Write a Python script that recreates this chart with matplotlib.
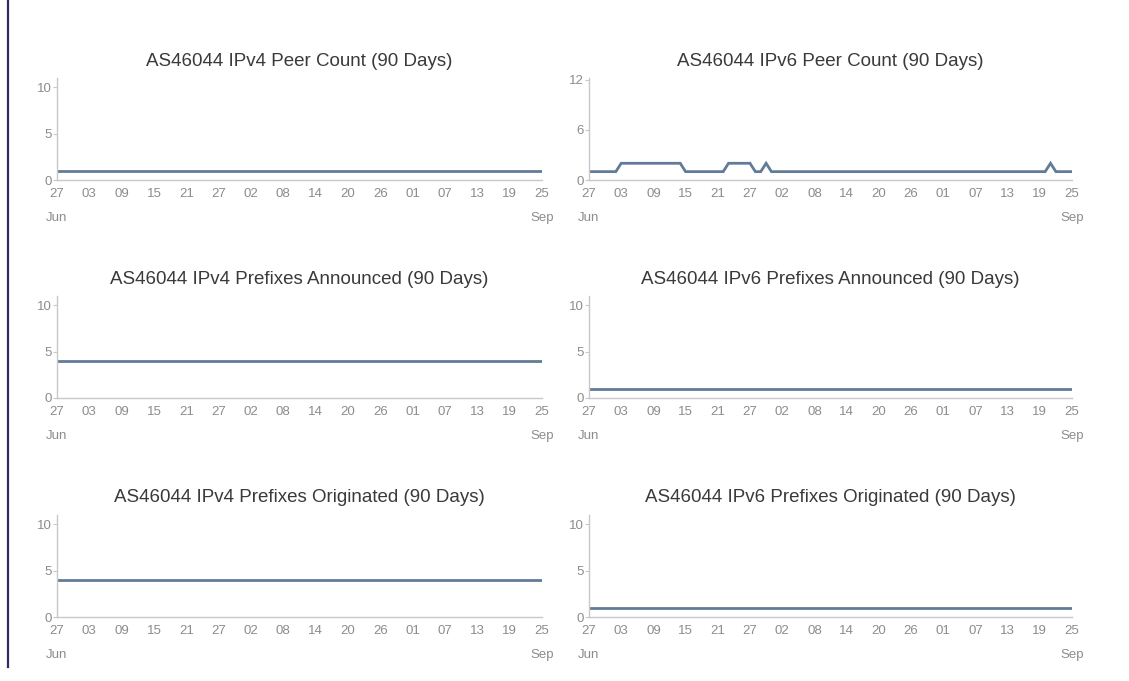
import matplotlib
matplotlib.use("Agg")
import matplotlib.pyplot as plt
import matplotlib.dates as mdates
import numpy as np
import pandas as pd

plt.rcParams['font.family'] = ['Liberation Sans', 'DejaVu Sans']

dates = pd.date_range("2024-06-27", "2024-09-25", freq="D")
n = len(dates)

titles = [
    "AS46044 IPv4 Peer Count (90 Days)",
    "AS46044 IPv6 Peer Count (90 Days)",
    "AS46044 IPv4 Prefixes Announced (90 Days)",
    "AS46044 IPv6 Prefixes Announced (90 Days)",
    "AS46044 IPv4 Prefixes Originated (90 Days)",
    "AS46044 IPv6 Prefixes Originated (90 Days)",
]

ipv4_peers = [1] * n
# IPv6 peer count per day (Jun 27 .. Sep 25)
ipv6_peers = ([1] * 6 + [2] * 12 + [1] * 8 + [2] * 5 + [1] * 2 + [2] + [1] * 52
              + [2] + [1] * 4)
ipv4_announced = [4] * n
ipv6_announced = [1] * n
ipv4_originated = [4] * n
ipv6_originated = [1] * n

series = [ipv4_peers, ipv6_peers, ipv4_announced, ipv6_announced,
          ipv4_originated, ipv6_originated]
yticks = [[0, 5, 10], [0, 6, 12], [0, 5, 10], [0, 5, 10], [0, 5, 10], [0, 5, 10]]
ytops = [11, 12.2, 11, 11, 11, 11]

W, H = 1129, 681
fig = plt.figure(figsize=(W / 100, H / 100), dpi=100)

col_x = [(57, 542), (589, 1072)]
row_bottom = [180, 398, 617]
ax_h = 102

tick_dates = pd.date_range("2024-06-27", "2024-09-25", freq="6D")

line_color = "#617b98"
spine_color = "#c8c8c8"
tick_color = "#8c8c8c"

for i, (title, vals) in enumerate(zip(titles, series)):
    r, c = divmod(i, 2)
    x0, x1 = col_x[c]
    yb = row_bottom[r]
    ax = fig.add_axes([x0 / W, 1 - yb / H, (x1 - x0) / W, ax_h / H])
    ax.plot(dates, vals, color=line_color, lw=2.0, solid_joinstyle='miter')
    ax.set_xlim(dates[0], dates[-1])
    ax.set_ylim(0, ytops[i])
    ax.set_yticks(yticks[i])
    ax.set_xticks(tick_dates)
    labels = []
    for d in tick_dates:
        lab = d.strftime("%d")
        if d == tick_dates[0] or d == tick_dates[-1]:
            lab += "\n" + d.strftime("%b")
        labels.append(lab)
    ax.set_xticklabels(labels, linespacing=2.3, va='top')
    for s in ['top', 'right']:
        ax.spines[s].set_visible(False)
    for s in ['left', 'bottom']:
        ax.spines[s].set_color(spine_color)
        ax.spines[s].set_linewidth(1.0)
    ax.tick_params(axis='x', length=0, pad=6, labelsize=9.5, labelcolor=tick_color)
    ax.tick_params(axis='y', length=3, width=0.8, color=spine_color, pad=1,
                   labelsize=9.5, labelcolor=tick_color)
    ax.set_title(title, fontsize=13.5, color="#3a3a3a", pad=9)

# left border line
fig.add_artist(plt.Line2D([8 / W, 8 / W], [0.02, 1], color="#2e2b5e", lw=1.6))

fig.savefig("out.png", dpi=100, facecolor="white")
